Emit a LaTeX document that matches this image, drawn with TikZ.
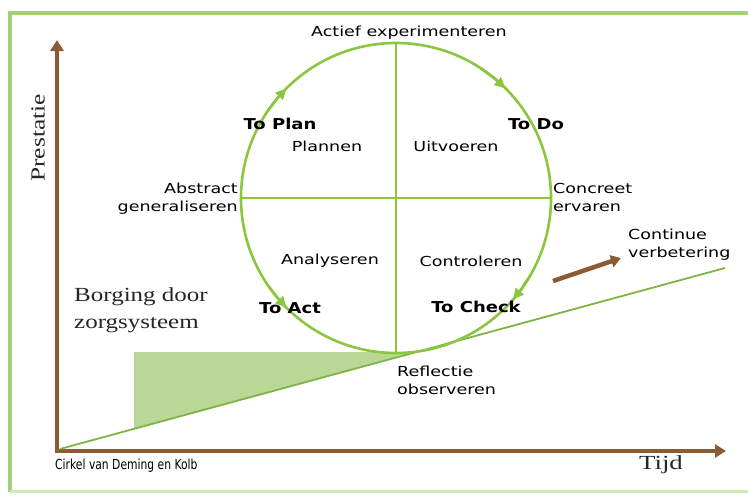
\documentclass[tikz,border=0pt]{standalone}
\usepackage{fontspec}
\setmainfont[FakeStretch=1.27]{Liberation Serif}
\newfontfamily\wideserif[FakeStretch=1.25]{Liberation Serif}
\newfontfamily\tijdserif[FakeStretch=1.34]{Liberation Serif}
\newfontfamily\labfont[FakeStretch=1.27]{DejaVu Sans}
\newfontfamily\narrowlab[FakeStretch=0.78]{DejaVu Sans}
\newfontfamily\boldlabfont[FakeStretch=1.2]{DejaVu Sans Bold}
\usetikzlibrary{arrows.meta}
\definecolor{frameg}{HTML}{A5CF78}
\definecolor{circg}{HTML}{8CC63F}
\definecolor{lineg}{HTML}{7DB544}
\definecolor{fillg}{HTML}{B9D797}
\definecolor{axisbrown}{HTML}{8C5A33}
\begin{document}
\begin{tikzpicture}[x=1pt,y=-1pt,
  lab/.style={font=\labfont\fontsize{13.8}{18}\selectfont, inner sep=0pt, text=black},
  bold/.style={font=\boldlabfont\fontsize{15}{18}\selectfont, inner sep=0pt, text=black},
  serif/.style={font=\fontsize{20}{27}\selectfont, inner sep=0pt, text=black!85},
  axis/.style={draw=axisbrown, line width=4.5pt, -{Triangle[length=11pt,width=13pt]}},
  cyc/.style={draw=circg, line width=2.6pt},
  cycarrow/.style={draw=circg, line width=2.6pt, -{Triangle[length=11pt,width=10pt]}}]
\useasboundingbox (0,0) rectangle (748,496);
% frame
\draw[frameg, line width=4pt] (748,13) -- (10,13) -- (10,492);
\draw[frameg!50, line width=3pt] (10,491) -- (748,491);
% shaded area
\fill[fillg] (134,352) -- (413,352) -- (134,429) -- cycle;
% axes
\coordinate (O) at (57,451);
\coordinate (ytop) at (57,40);
\coordinate (xend) at (726,451);
\draw[axis] (57,452) -- (ytop);
\draw[axis] (55,451) -- (xend);
% green line
\coordinate (lstart) at (60,449);
\coordinate (lend) at (725,268);
\draw[lineg, line width=1.8pt] (lstart) -- (lend);
% circle
\coordinate (c) at (396,198);
\draw[cyc] (c) circle[radius=155];
\draw[circg, line width=2pt] (396,43) -- (396,353);
\draw[circg, line width=2pt] (241,198) -- (551,198);
% cycle arrows
\coordinate (a1s) at (267.5,111.3); \coordinate (a1m) at (277.3,98.3); \coordinate (a1e) at (286.5,88.3);
\coordinate (a2s) at (480.4,68.0);  \coordinate (a2m) at (495.6,79.3); \coordinate (a2e) at (505.5,88.5);
\coordinate (a3s) at (530.2,275.5); \coordinate (a3m) at (521.4,289.1); \coordinate (a3e) at (513.0,299.7);
\coordinate (a4s) at (267.5,284.7); \coordinate (a4m) at (277.3,297.6); \coordinate (a4e) at (286.5,307.7);
\draw[cycarrow] (a1s) -- (a1m) -- (a1e);
\draw[cycarrow] (a2s) -- (a2m) -- (a2e);
\draw[cycarrow] (a3s) -- (a3m) -- (a3e);
\draw[cycarrow] (a4s) -- (a4m) -- (a4e);
% brown arrow
\coordinate (ba) at (553,281);
\coordinate (bb) at (621,258);
\draw[draw=axisbrown, line width=4.5pt, -{Triangle[length=10pt,width=12pt]}] (ba) -- (bb);
% texts
\node[lab, anchor=center] (t1) at (409,33) {Actief experimenteren};
\node[bold, anchor=center] (tp) at (280,124) {To Plan};
\node[lab, anchor=center] (pl) at (327,146) {Plannen};
\node[bold, anchor=center] (td) at (536,124) {To Do};
\node[lab, anchor=center] (ui) at (456,146) {Uitvoeren};
\node[lab, anchor=east, align=right] (ab) at (238,199) {Abstract\\generaliseren};
\node[lab, anchor=west, align=left] (co) at (553,197) {Concreet\\ervaren};
\node[lab, anchor=center] (an) at (330,261) {Analyseren};
\node[lab, anchor=center] (ct) at (471,261) {Controleren};
\node[bold, anchor=center] (ta) at (290,308) {To Act};
\node[bold, anchor=center] (tc) at (476,307) {To Check};
\node[serif, font=\wideserif\fontsize{20}{27}\selectfont, anchor=west, align=left] (bo) at (74,310) {Borging door\\zorgsysteem};
\node[lab, anchor=west, align=left] (cv) at (628,245) {Continue\\verbetering};
\node[lab, anchor=west, align=left] (re) at (397,380) {Reflectie\\observeren};
\node[lab, font=\narrowlab\fontsize{13.8}{18}\selectfont, anchor=west] (ck) at (55,466) {Cirkel van Deming en Kolb};
\node[serif, font=\tijdserif\fontsize{20}{27}\selectfont, anchor=center] (tj) at (661,465) {Tijd};
\node[serif, anchor=center, rotate=90] (pr) at (38,138) {Prestatie};
\end{tikzpicture}
\end{document}
